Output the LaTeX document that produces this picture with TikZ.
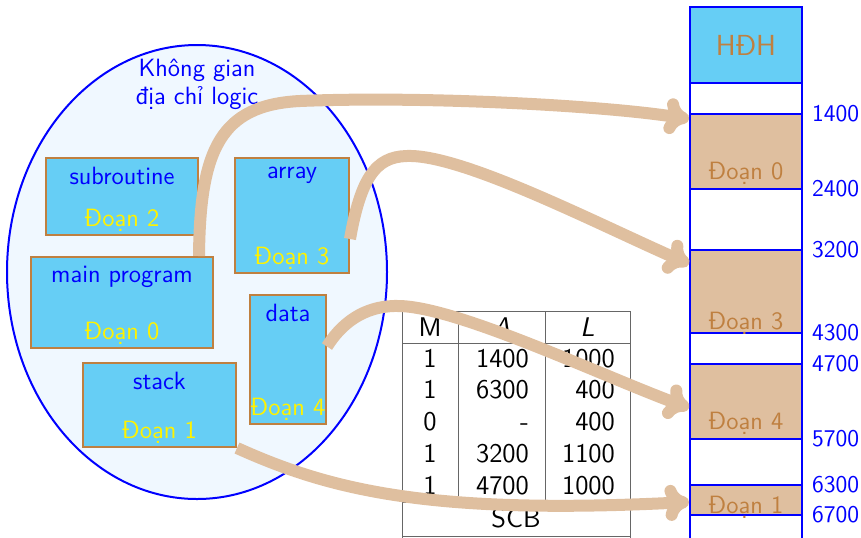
\documentclass[tikz,border=0pt]{standalone}
\usetikzlibrary{arrows.meta}
\definecolor{segcyan}{RGB}{102,206,245}
\definecolor{aliceblue}{RGB}{240,248,255}
\tikzset{
  segbox/.style={draw=brown, line width=1pt, fill=segcyan, inner sep=0pt},
  segname/.style={text=blue, anchor=north, inner sep=5pt},
  segtag/.style={text=yellow, anchor=south, inner sep=2pt},
  memcell/.style={draw=blue, line width=1pt, fill=brown!50, minimum width=56pt, inner sep=0pt},
  memtag/.style={text=brown},
  addr/.style={text=blue, anchor=west, font=\fontsize{12}{14}\selectfont\sffamily},
  scbline/.style={draw=black!60, line width=0.5pt},
  scbcell/.style={font=\fontsize{13.5}{16}\selectfont\sffamily},
  maparrow/.style={draw=brown!50, line width=6pt, -{Computer Modern Rightarrow[length=12pt,width=18pt]}}
}
\begin{document}
\begin{tikzpicture}[x=0.5pt, y=-0.5pt, font=\fontsize{12.5}{14}\selectfont\sffamily]
    \useasboundingbox (0,0) rectangle (861,537);
    \clip (0,0) rectangle (861,537);
    % khong gian logic
    \draw[blue, line width=1pt, fill=aliceblue] (197,272) ellipse [x radius=95pt, y radius=113.5pt];
    \node[text=blue, align=center] (title) at (197,84) {Không gian\\địa chỉ logic};
    % cac doan
    \node[segbox, minimum width=76pt, minimum height=38.5pt] (sub) at (122,196.5) {};
    \node[segname] (subname) at (sub.north) {subroutine};
    \node[segtag] (subtag) at (sub.south) {Đoạn 2};
    \node[segbox, minimum width=57pt, minimum height=57.5pt] (array) at (292,215.5) {};
    \node[segname] (arrayname) at (array.north) {array};
    \node[segtag] (arraytag) at (array.south) {Đoạn 3};
    \node[segbox, minimum width=91pt, minimum height=45.5pt] (main) at (122,302.5) {};
    \node[segname] (mainname) at (main.north) {main program};
    \node[segtag] (maintag) at (main.south) {Đoạn 0};
    \node[segbox, minimum width=38pt, minimum height=64.5pt] (data) at (288,359.5) {};
    \node[segname] (dataname) at (data.north) {data};
    \node[segtag] (datatag) at (data.south) {Đoạn 4};
    \node[segbox, minimum width=76.5pt, minimum height=42pt] (stack) at (159.5,405) {};
    \node[segname] (stackname) at (stack.north) {stack};
    \node[segtag] (stacktag) at (stack.south) {Đoạn 1};
    % SCB
    \draw[scbline] (402,311) -- (630,311) (402,343) -- (630,343) (402,502) -- (630,502) (402,536) -- (630,536);
    \draw[scbline] (402,311) -- (402,545) (630,311) -- (630,545) (458,311) -- (458,502) (545,311) -- (545,502);
    \node[scbcell, anchor=base] (hM) at (430,336) {M};
    \node[scbcell, anchor=base] (hA) at (501.5,336) {\textit{A}};
    \node[scbcell, anchor=base] (hL) at (587.5,336) {\textit{L}};
    \foreach \m/\a/\l [count=\i] in {1/1400/1000, 1/6300/400, 0/-/400, 1/3200/1100, 1/4700/1000} {
        \node[scbcell, anchor=base] (m\i) at (430,{335.5+31.7*\i}) {\m};
        \node[scbcell, anchor=base east] (a\i) at (536,{335.5+31.7*\i}) {\a};
        \node[scbcell, anchor=base east] (l\i) at (622,{335.5+31.7*\i}) {\l};
    }
    \node[scbcell] (scb) at (516,518) {SCB};
    % bo nho vat ly
    \draw[blue, line width=1pt] (690,7) -- (690,545) (802,7) -- (802,545);
    \node[memcell, fill=segcyan, minimum height=38pt, text=brown, font=\fontsize{14.5}{17}\selectfont\sffamily] (hdh) at (746,45) {HĐH};
    \node[memcell, minimum height=37.5pt] (m0) at (746,151.5) {};
    \node[memcell, minimum height=41.5pt] (m3) at (746,291.5) {};
    \node[memcell, minimum height=37.5pt] (m4) at (746,401.5) {};
    \node[memcell, minimum height=15pt] (m1) at (746,500) {};
    \node[memtag] (m0tag) at (746,173) {Đoạn 0};
    \node[memtag] (m3tag) at (746,323) {Đoạn 3};
    \node[memtag] (m4tag) at (746,423) {Đoạn 4};
    \node[memtag] (m1tag) at (746,507) {Đoạn 1};
    \foreach \y/\v in {114/1400, 189/2400, 250/3200, 333/4300, 364/4700, 439/5700, 485/6300, 515/6700}
        \node[addr] (addr\v) at (805,\y) {\v};
    % anh xa
    \draw[maparrow] ([xshift=-7.5pt]main.north east) .. controls (200,150) and (220,105) .. (300,101)
        .. controls (420,96) and (600,105) .. ([yshift=-3pt]m0.north west);
    \draw[maparrow] ([yshift=17.5pt]array.south east) .. controls (362,170) and (380,155) .. (412,156)
        .. controls (470,158) and (600,225) .. ([yshift=-7.5pt]m3.north west);
    \draw[maparrow] ([yshift=6.5pt]data.east) .. controls (345,318) and (370,305) .. (400,306)
        .. controls (460,308) and (600,375) .. ([yshift=-3.25pt]m4.west);
    \draw[maparrow] (stack.south east) .. controls (330,490) and (430,515) .. ([yshift=-1pt]m1.west);
\end{tikzpicture}
\end{document}
